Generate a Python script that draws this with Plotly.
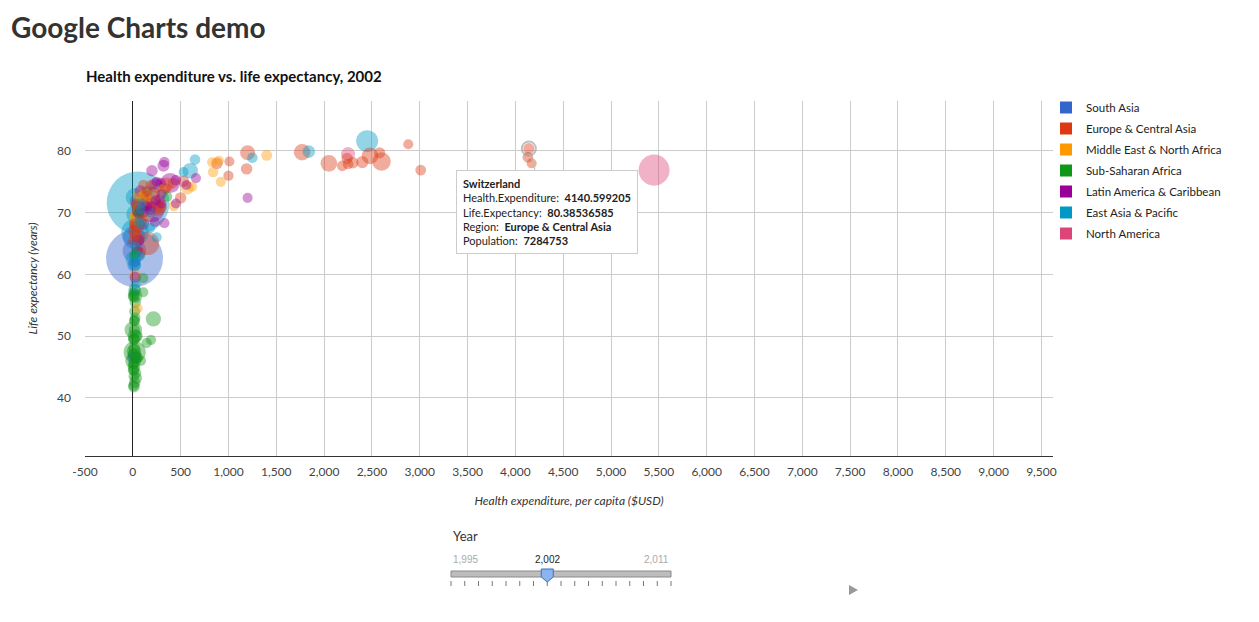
import plotly.graph_objects as go

# ---------------- DATA ----------------
regions = ["South Asia", "Europe & Central Asia", "Middle East & North Africa",
           "Sub-Saharan Africa", "Latin America & Caribbean", "East Asia & Pacific",
           "North America"]
region_colors = ["#3366cc", "#dc3912", "#ff9900", "#109618", "#990099", "#0099c6", "#dd4477"]

# South Asia
sa_names = ["Afghanistan", "Bangladesh", "Bhutan", "India", "Maldives", "Nepal", "Pakistan", "Sri Lanka"]
sa_exp = [10, 12, 30, 18, 190, 12, 16, 35]
sa_le = [46.5, 66.0, 62.0, 62.6, 70.0, 61.5, 63.8, 72.0]
sa_pop = [22600000, 136000000, 600000, 1050000000, 300000, 24600000, 149000000, 19000000]

# Europe & Central Asia
eca_names = ["Albania", "Armenia", "Austria", "Azerbaijan", "Belarus", "Belgium", "Bosnia and Herzegovina",
             "Bulgaria", "Croatia", "Cyprus", "Czech Republic", "Denmark", "Estonia", "Finland", "France",
             "Georgia", "Germany", "Greece", "Hungary", "Iceland", "Ireland", "Italy", "Kazakhstan",
             "Kyrgyz Republic", "Latvia", "Lithuania", "Luxembourg", "Macedonia", "Moldova", "Netherlands",
             "Norway", "Poland", "Portugal", "Romania", "Russian Federation", "Serbia", "Slovak Republic",
             "Slovenia", "Spain", "Sweden", "Switzerland", "Tajikistan", "Turkey", "Turkmenistan", "Ukraine",
             "United Kingdom", "Uzbekistan"]
eca_exp = [110, 30, 2240, 25, 85, 2300, 190, 145, 420, 1010, 530, 3010, 300, 2190, 2480,
           35, 2600, 880, 500, 2880, 2250, 1770, 60,
           15, 250, 280, 4170, 150, 30, 2400,
           4130, 350, 1190, 120, 155, 140, 340,
           1000, 1200, 2580, 4140.599205, 8, 260, 75, 45,
           2050, 22]
eca_le = [74.5, 71.5, 78.8, 66.5, 68.5, 78.1, 74.5, 72.0, 74.8, 78.3, 75.1, 76.9, 70.9, 77.6, 79.2,
          71.2, 78.3, 78.0, 72.4, 81.1, 77.9, 79.8, 65.8,
          68.2, 70.8, 72.1, 78.0, 73.5, 67.8, 78.2,
          79.0, 74.5, 77.1, 71.0, 65.0, 72.7, 73.9,
          76.0, 79.7, 79.7, 80.38536585, 65.5, 70.9, 63.5, 68.0,
          78.0, 67.0]
eca_pop = [3100000, 3100000, 8100000, 8200000, 9900000, 10300000, 3800000, 7900000, 4400000, 750000,
           10200000, 5400000, 1360000, 5200000, 59500000, 4500000, 82500000, 11000000, 10200000, 290000,
           3900000, 57000000, 14900000, 5000000, 2300000, 3500000, 450000, 2000000, 3600000, 16100000,
           4500000, 38200000, 10400000, 21800000, 145000000, 8100000, 5400000, 2000000, 41000000,
           8900000, 7284753, 6300000, 66800000, 4600000, 48200000, 59400000, 25300000]

# Middle East & North Africa
mena_names = ["Algeria", "Bahrain", "Djibouti", "Egypt", "Iran", "Iraq", "Israel", "Jordan", "Kuwait",
              "Lebanon", "Libya", "Malta", "Morocco", "Oman", "Qatar", "Saudi Arabia", "Syria", "Tunisia",
              "United Arab Emirates", "West Bank and Gaza", "Yemen"]
mena_exp = [70, 620, 50, 50, 130, 35, 1400, 170, 830, 430, 220, 900, 55, 300, 920, 570, 60, 125, 840, 80, 25]
mena_le = [70.5, 74.2, 54.5, 69.0, 70.0, 69.5, 79.3, 71.8, 78.2, 71.1, 73.0, 78.4, 69.0, 73.8, 75.0,
           74.0, 72.8, 73.0, 76.6, 72.5, 59.8]
mena_pop = [31400000, 680000, 750000, 70500000, 66500000, 25000000, 6600000, 5000000, 2300000, 4200000,
            5400000, 400000, 29800000, 2400000, 600000, 22500000, 17000000, 9800000, 3300000, 3200000,
            18600000]

# Sub-Saharan Africa
ssa_names = ["Angola", "Benin", "Botswana", "Burkina Faso", "Burundi", "Cameroon", "Cape Verde",
             "Central African Republic", "Chad", "Comoros", "Congo, Dem. Rep.", "Congo, Rep.",
             "Cote d'Ivoire", "Equatorial Guinea", "Eritrea", "Ethiopia", "Gabon", "Gambia", "Ghana",
             "Guinea", "Guinea-Bissau", "Kenya", "Lesotho", "Liberia", "Madagascar", "Malawi", "Mali",
             "Mauritania", "Mauritius", "Mozambique", "Namibia", "Niger", "Nigeria", "Rwanda",
             "Sao Tome and Principe", "Senegal", "Sierra Leone", "South Africa", "Sudan", "Swaziland",
             "Tanzania", "Togo", "Uganda", "Zambia", "Zimbabwe"]
ssa_exp = [40, 20, 190, 12, 4, 40, 60, 10, 12, 12, 4, 25, 35, 110, 8, 5, 110, 15, 20, 15, 10, 20, 35, 5,
           10, 12, 15, 20, 360, 12, 145, 7, 20, 12, 30, 25, 8, 215, 25, 85, 12, 15, 18, 20, 35]
ssa_le = [46.5, 54.0, 49.4, 49.5, 44.5, 50.0, 70.0, 43.5, 49.5, 63.0, 46.0, 53.0, 46.5, 57.1, 57.0,
          51.0, 59.4, 56.5, 57.5, 51.0, 45.5, 50.0, 44.0, 45.5, 56.5, 41.8, 48.0, 52.5, 72.6, 45.0,
          48.9, 47.0, 47.4, 44.5, 63.5, 55.5, 42.0, 52.8, 56.5, 46.0, 47.5, 52.5, 47.0, 42.5, 43.2]
ssa_pop = [15000000, 7000000, 1800000, 12000000, 6900000, 16000000, 450000, 3800000, 8600000, 550000,
           50000000, 3300000, 17000000, 500000, 3900000, 69000000, 1300000, 1400000, 20000000, 8500000,
           1400000, 32000000, 1800000, 3000000, 16400000, 11500000, 11000000, 2800000, 1200000, 18800000,
           1900000, 11500000, 130000000, 8500000, 150000, 10000000, 4800000, 45500000, 33000000, 1100000,
           36000000, 5300000, 25500000, 10500000, 12500000]

# Latin America & Caribbean
lac_names = ["Antigua and Barbuda", "Argentina", "Bahamas", "Barbados", "Belize", "Bolivia", "Brazil",
             "Chile", "Colombia", "Costa Rica", "Cuba", "Dominica", "Dominican Republic", "Ecuador",
             "El Salvador", "Grenada", "Guatemala", "Guyana", "Haiti", "Honduras", "Jamaica", "Mexico",
             "Nicaragua", "Panama", "Paraguay", "Peru", "St. Kitts and Nevis", "St. Lucia",
             "St. Vincent and the Grenadines", "Suriname", "Trinidad and Tobago", "Uruguay", "Venezuela"]
lac_exp = [560, 240, 1200, 660, 150, 60, 200, 320, 125, 330, 200, 250, 120, 80, 180, 300, 110, 55, 25,
           60, 200, 390, 50, 290, 80, 100, 450, 300, 240, 230, 330, 450, 220]
lac_le = [74.5, 74.4, 72.4, 75.6, 71.0, 65.5, 70.5, 77.6, 71.5, 78.2, 76.8, 75.0, 71.2, 73.5, 70.5,
          71.5, 68.2, 63.8, 59.5, 69.8, 71.0, 74.8, 70.2, 74.8, 70.5, 70.2, 71.5, 73.0, 72.0, 68.5,
          68.3, 75.3, 73.2]
lac_pop = [80000, 37900000, 310000, 270000, 250000, 8800000, 178000000, 15600000, 41000000, 4000000,
           11200000, 70000, 8700000, 12800000, 6400000, 100000, 12000000, 750000, 8600000, 6700000,
           2600000, 101000000, 5200000, 3100000, 5600000, 26500000, 50000, 160000, 110000, 480000,
           1300000, 3300000, 25000000]

# East Asia & Pacific
eap_names = ["China", "Indonesia", "Japan", "Korea, Rep.", "Philippines", "Vietnam", "Thailand",
             "Malaysia", "Myanmar", "Cambodia", "Lao PDR", "Mongolia", "Papua New Guinea", "Fiji",
             "Australia", "New Zealand", "Singapore", "Brunei Darussalam", "Timor-Leste",
             "Solomon Islands", "Samoa", "Tonga", "Vanuatu", "Kiribati", "Micronesia", "Marshall Islands"]
eap_exp = [55, 22, 2450, 600, 28, 22, 75, 150, 5, 25, 12, 25, 25, 95, 1840, 1250, 650, 530, 30, 25,
           80, 90, 60, 75, 180, 250]
eap_le = [71.6, 66.8, 81.6, 76.8, 69.8, 72.5, 71.5, 73.2, 62.5, 61.5, 61.8, 64.5, 57.5, 68.2, 79.9,
          78.9, 78.6, 76.6, 58.5, 63.0, 70.5, 71.5, 68.5, 63.0, 67.5, 66.0]
eap_pop = [1280400000, 216000000, 127100000, 47600000, 80000000, 80000000, 63000000, 24500000,
           47000000, 12800000, 5400000, 2400000, 5600000, 800000, 19600000, 3900000, 4200000, 350000,
           900000, 450000, 180000, 100000, 200000, 90000, 100000, 50000]

# North America
na_names = ["Canada", "United States"]
na_exp = [2250, 5450]
na_le = [79.5, 76.9]
na_pop = [31400000, 288000000]

x_ticks = list(range(-500, 10000, 500))
x_tick_labels = [f"{v:,}" for v in x_ticks]
years = list(range(1995, 2012))
current_year = 2002
highlight_country = "Switzerland"

chart_title = "Health expenditure vs. life expectancy, 2002"
page_title = "Google Charts demo"
x_title = "Health expenditure, per capita ($USD)"
y_title = "Life expectancy (years)"

# ---------------- BUILD ----------------
region_data = [
    (sa_names, sa_exp, sa_le, sa_pop),
    (eca_names, eca_exp, eca_le, eca_pop),
    (mena_names, mena_exp, mena_le, mena_pop),
    (ssa_names, ssa_exp, ssa_le, ssa_pop),
    (lac_names, lac_exp, lac_le, lac_pop),
    (eap_names, eap_exp, eap_le, eap_pop),
    (na_names, na_exp, na_le, na_pop),
]

rows = []
for ri, (names, ex, le, pop) in enumerate(region_data):
    for n, e, l, p in zip(names, ex, le, pop):
        rows.append((n, e, l, p, ri))
rows.sort(key=lambda r: -r[3])  # larger bubbles drawn first (behind)


def diam(p):
    return 2 * (25 + 0.75 * p / 1e6) ** 0.5


FONT = "Lato"
OFF = 8  # page body margin: the figure starts at (8, 8) on screen
W, H = 1259 - OFF, 622 - OFF
PL, PR, PT, PB = 85, 1053, 101, 456  # plot box in screen pixels
L, R, T, B = PL - OFF, W - (PR - OFF), PT - OFF, H - (PB - OFF)
PW, PH = W - L - R, H - T - B


def fx(px):
    return (px - OFF - L) / PW


def fy(py):
    return (H - B - (py - OFF)) / PH


fig = go.Figure()
fig.add_trace(go.Scatter(
    x=[r[1] for r in rows], y=[r[2] for r in rows], mode="markers",
    marker=dict(size=[diam(r[3]) for r in rows], sizemode="diameter",
                color=[region_colors[r[4]] for r in rows], opacity=0.42,
                line=dict(width=0)),
    customdata=[[r[0], regions[r[4]], r[3]] for r in rows],
    hovertemplate="<b>%{customdata[0]}</b><br>Health.Expenditure: %{x}<br>Life.Expectancy: %{y}"
                  "<br>Region: %{customdata[1]}<br>Population: %{customdata[2]}<extra></extra>",
    showlegend=False,
))

for reg, col in zip(regions, region_colors):
    fig.add_trace(go.Scatter(x=[None], y=[None], mode="markers", name=reg, legendgroup=reg,
                             marker=dict(symbol="square", size=12, color=col)))

# highlighted country (tooltip target)
hi = [r for r in rows if r[0] == highlight_country][0]
fig.add_trace(go.Scatter(x=[hi[1]], y=[hi[2]], mode="markers", showlegend=False, hoverinfo="skip",
                         marker=dict(size=diam(hi[3]) + 3, color="rgba(0,0,0,0)",
                                     line=dict(width=2, color="rgba(150,150,150,0.6)"))))

tooltip = (f"<b>{hi[0]}</b><br>Health.Expenditure:  <b>{hi[1]}</b><br>"
           f"Life.Expectancy:  <b>{hi[2]}</b><br>Region:  <b>{regions[hi[4]]}</b><br>"
           f"Population:  <b>{hi[3]}</b>")
fig.add_annotation(x=hi[1], y=hi[2], xref="x", yref="y", text=tooltip, showarrow=True,
                   arrowhead=0, arrowwidth=1, arrowcolor="#bbbbbb", ax=18, ay=63, standoff=6,
                   align="left", bgcolor="white", bordercolor="#cccccc", borderwidth=1, borderpad=6,
                   font=dict(family=FONT, size=11, color="#222"))

# page & chart titles
fig.add_annotation(xref="paper", yref="paper", x=fx(10), y=fy(27), xanchor="left", yanchor="middle",
                   text=f"<b>{page_title}</b>", showarrow=False, borderpad=0,
                   font=dict(family=FONT, size=28, color="#333333"))
fig.add_annotation(xref="paper", yref="paper", x=fx(84), y=fy(76), xanchor="left", yanchor="middle",
                   text=f"<b>{chart_title}</b>", showarrow=False,
                   font=dict(family=FONT, size=15, color="#111111"))

# ---------------- slider (static picture) ----------------
sx0, sx1 = 451, 671
step = (sx1 - sx0) / (len(years) - 1)
hx = sx0 + step * years.index(current_year)
fig.add_annotation(xref="paper", yref="paper", x=fx(451), y=fy(536), xanchor="left", yanchor="middle",
                   text="Year", showarrow=False, font=dict(family=FONT, size=13, color="#333"))
for lab, xpos, anc, col in [(years[0], sx0, "left", "#aaa"), (current_year, hx, "center", "#222"),
                            (years[-1], sx1, "right", "#aaa")]:
    fig.add_annotation(xref="paper", yref="paper", x=fx(xpos), y=fy(559), xanchor=anc, yanchor="middle",
                       text=f"{lab:,}", showarrow=False, font=dict(family="Arial", size=10, color=col))
fig.add_shape(type="rect", xref="paper", yref="paper", x0=fx(sx0), x1=fx(sx1), y0=fy(577), y1=fy(571),
              fillcolor="#bdbdbd", line=dict(color="#8a8a8a", width=1))
for i in range(len(years)):
    tx = sx0 + step * i
    fig.add_shape(type="line", xref="paper", yref="paper", x0=fx(tx), x1=fx(tx), y0=fy(581), y1=fy(586),
                  line=dict(color="#777", width=1))
fig.add_shape(type="path", xref="paper", yref="paper",
              path=(f"M {fx(hx-6)} {fy(569)} L {fx(hx+6)} {fy(569)} L {fx(hx+6)} {fy(577)} "
                    f"L {fx(hx)} {fy(582)} L {fx(hx-6)} {fy(577)} Z"),
              fillcolor="#8bb5ee", line=dict(color="#3a6fc4", width=1))
fig.add_shape(type="path", xref="paper", yref="paper",
              path=f"M {fx(849)} {fy(585)} L {fx(858)} {fy(590)} L {fx(849)} {fy(595)} Z",
              fillcolor="#999", line=dict(width=0))

fig.update_layout(
    width=W, height=H, margin=dict(l=L, r=R, t=T, b=B, autoexpand=False),
    paper_bgcolor="white", plot_bgcolor="white",
    font=dict(family=FONT, size=12, color="#444"),
    legend=dict(x=fx(1046), y=fy(93), xanchor="left", yanchor="top", tracegroupgap=2,
                font=dict(family=FONT, size=11.5, color="#222"), itemwidth=30,
                bgcolor="rgba(0,0,0,0)"),
    hovermode="closest",
)
fig.update_xaxes(range=[-500, 9621], tickvals=x_ticks, ticktext=x_tick_labels, showgrid=True,
                 gridcolor="#cccccc", gridwidth=1, zeroline=True, zerolinecolor="#222", zerolinewidth=1,
                 showline=True, linecolor="#333", linewidth=1, ticks="", ticklabelstandoff=5,
                 tickfont=dict(family=FONT, size=12, color="#444"),
                 title=dict(text=f"<i>{x_title}</i>", standoff=18,
                            font=dict(family=FONT, size=12, color="#333")),
                 automargin=False)
fig.update_yaxes(range=[30.57, 88.1], dtick=10, showgrid=True, gridcolor="#cccccc", gridwidth=1,
                 zeroline=False, showline=False, ticks="", ticklabelstandoff=13,
                 tickfont=dict(family=FONT, size=12, color="#444"),
                 title=dict(text=f"<i>{y_title}</i>", standoff=16,
                            font=dict(family=FONT, size=12, color="#333")),
                 automargin=False)

fig.write_html("out.html")
